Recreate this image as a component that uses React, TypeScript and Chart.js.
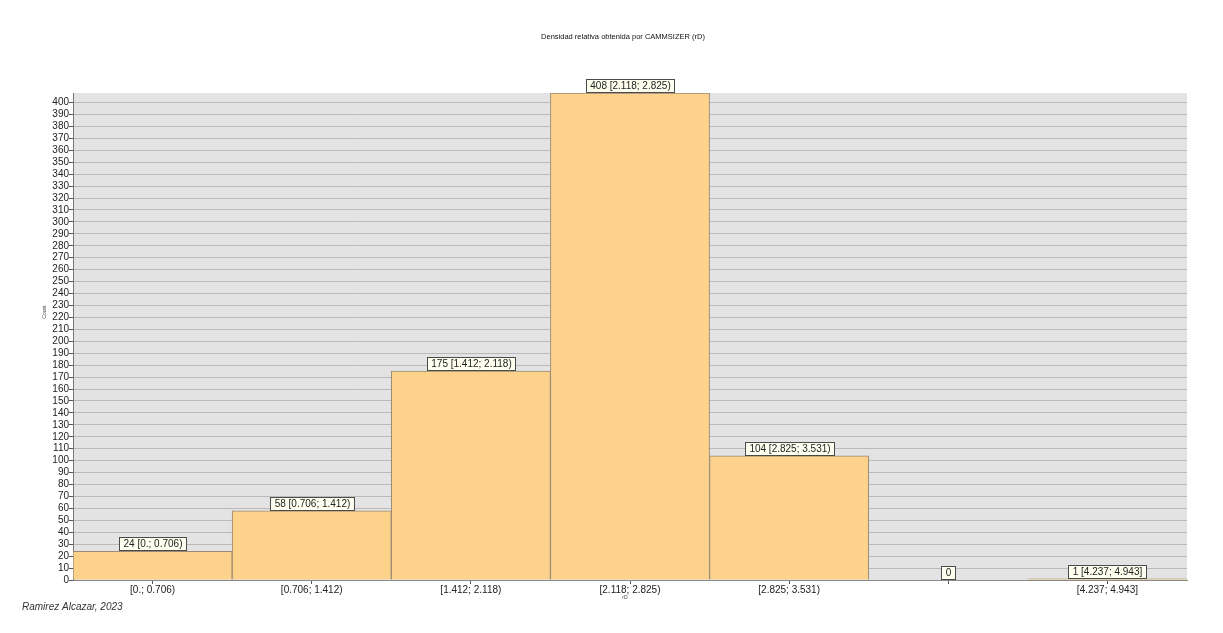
import { useEffect, useRef } from "react";
import { Chart, registerables } from "chart.js";

Chart.register(...registerables);

const categories = [
  "[0.; 0.706)",
  "[0.706; 1.412)",
  "[1.412; 2.118)",
  "[2.118; 2.825)",
  "[2.825; 3.531)",
  "[3.531; 4.237)",
  "[4.237; 4.943]",
];
const counts = [24, 58, 175, 408, 104, 0, 1];
const xTickLabels = [
  "[0.; 0.706)",
  "[0.706; 1.412)",
  "[1.412; 2.118)",
  "[2.118; 2.825)",
  "[2.825; 3.531)",
  "",
  "[4.237; 4.943]",
];
const yTickStep = 10;
const yTickTop = 400;
const chartTitle = "Densidad relativa obtenida por CAMMSIZER (rD)";
const yTitle = "Count";
const xTitle = "rD";
const credit = "Ramirez Alcazar, 2023";

const FONT = "'Liberation Sans', Arial, sans-serif";

const decor = {
  id: "decor",
  beforeDraw(chart: any) {
    const { ctx, chartArea: a, width, height } = chart;
    ctx.save();
    ctx.fillStyle = "#ffffff";
    ctx.fillRect(0, 0, width, height);
    ctx.fillStyle = "#e3e3e3";
    ctx.fillRect(a.left, a.top, a.right - a.left, a.bottom - a.top);
    ctx.restore();
  },
  afterDraw(chart: any) {
    const { ctx } = chart;
    ctx.save();
    // title
    ctx.fillStyle = "#111";
    ctx.font = `7.5px ${FONT}`;
    ctx.textAlign = "center";
    ctx.textBaseline = "middle";
    ctx.fillText(chartTitle, 615, 29);
    // axis titles
    ctx.font = `5px ${FONT}`;
    ctx.fillStyle = "#444";
    ctx.fillText(xTitle, 617, 590);
    ctx.save();
    ctx.translate(37, 304);
    ctx.rotate(-Math.PI / 2);
    ctx.fillText(yTitle, 0, 0);
    ctx.restore();
    // credit
    ctx.font = `italic 10px ${FONT}`;
    ctx.fillStyle = "#333";
    ctx.textAlign = "left";
    ctx.fillText(credit, 14, 599);
    // bar labels
    const meta = chart.getDatasetMeta(0);
    ctx.font = `10px ${FONT}`;
    meta.data.forEach((el: any, i: number) => {
      const label = counts[i] === 0 ? "0" : `${counts[i]} ${categories[i]}`;
      const tw = ctx.measureText(label).width;
      const w = Math.round(tw + 8);
      const h = 13;
      const x0 = Math.round(el.x - w / 2) + 0.5;
      const y1 = Math.round(el.y) - 0.5;
      const y0 = y1 - h;
      ctx.fillStyle = "#fffff0";
      ctx.fillRect(x0, y0, w, h);
      ctx.strokeStyle = "#4a4a4a";
      ctx.lineWidth = 1;
      ctx.strokeRect(x0, y0, w, h);
      ctx.fillStyle = "#222";
      ctx.textAlign = "center";
      ctx.textBaseline = "middle";
      ctx.fillText(label, x0 + w / 2, y0 + h / 2 + 0.5);
    });
    ctx.restore();
  },
};

export default function App() {
  const ref = useRef<HTMLCanvasElement>(null);
  useEffect(() => {
    const chart = new Chart(ref.current!, {
      type: "bar",
      data: {
        labels: xTickLabels,
        datasets: [
          {
            data: counts,
            backgroundColor: "#fdd28a",
            borderColor: "#9a8a72",
            borderWidth: 1,
            categoryPercentage: 1,
            barPercentage: 1,
          },
        ],
      },
      options: {
        responsive: true,
        maintainAspectRatio: false,
        animation: false,
        layout: { padding: { top: 85, right: 28, left: 0, bottom: 0 } },
        plugins: {
          legend: { display: false },
          tooltip: { enabled: false },
          title: { display: false },
        },
        scales: {
          x: {
            grid: {
              offset: false,
              drawOnChartArea: false,
              drawTicks: true,
              tickLength: 4,
              color: "#555",
              tickColor: "#555",
            },
            border: { display: true, color: "#8a8a8a" },
            ticks: {
              color: "#222",
              font: { family: FONT, size: 10 },
              padding: 0,
              maxRotation: 0,
              autoSkip: false,
            },
            afterFit: (s: any) => {
              s.height = 45;
            },
          },
          y: {
            min: 0,
            max: Math.max(...counts),
            grid: {
              color: "#bababa",
              tickColor: "#555",
              tickLength: 4,
              drawTicks: true,
            },
            border: { display: true, color: "#777" },
            ticks: {
              stepSize: yTickStep,
              autoSkip: false,
              color: "#222",
              font: { family: FONT, size: 10 },
              padding: 0,
            },
            afterBuildTicks: (s: any) => {
              const t: any[] = [];
              for (let v = 0; v <= yTickTop; v += yTickStep) t.push({ value: v });
              s.ticks = t;
            },
            afterFit: (s: any) => {
              s.width = 65;
            },
          },
        },
      },
      plugins: [decor],
    });
    return () => chart.destroy();
  }, []);
  return (
    <div style={{ width: 1207, height: 617, position: "relative" }}>
      <canvas ref={ref} />
    </div>
  );
}
